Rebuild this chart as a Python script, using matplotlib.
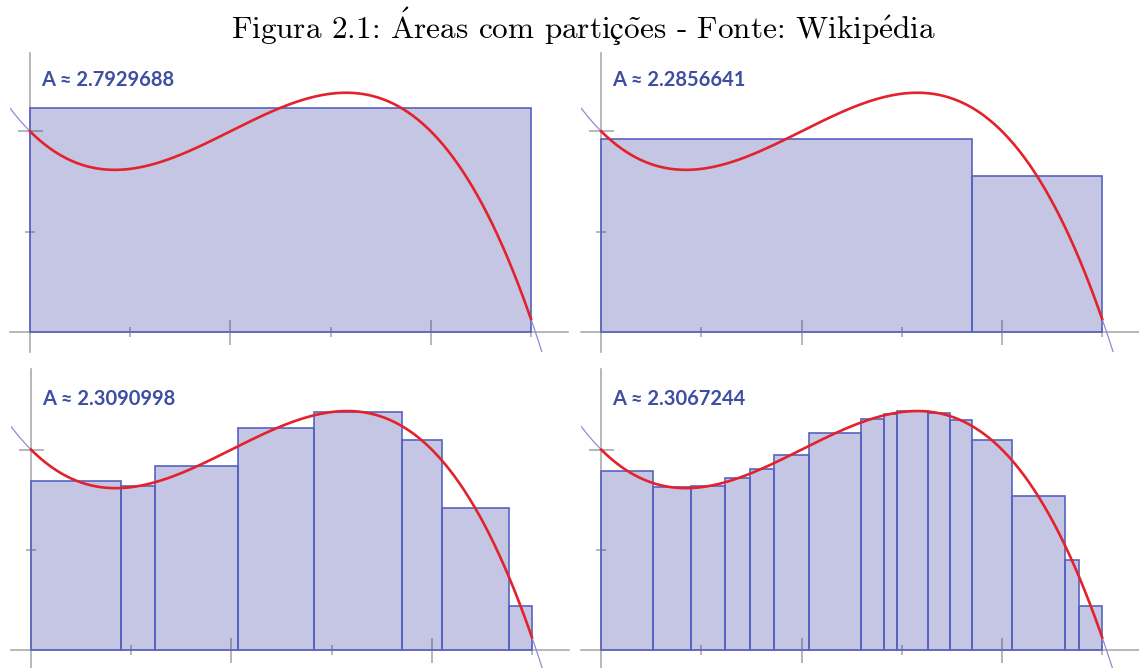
import numpy as np
import matplotlib.pyplot as plt
from matplotlib.ticker import FixedLocator

plt.rcParams["mathtext.fontset"] = "cm"

# f(x) = -0.5x^3 + 1.5x^2 - x + 1, integrada em [0, 2.5]
coef = [-0.5, 1.5, -1.0, 1.0]
a, b = 0.0, 2.5

# pontos das partições de cada painel (soma com ponto médio)
part_1 = [0, 2.5]
part_2 = [0, 1.85, 2.5]
part_3 = [0, 0.45, 0.62, 1.035, 1.41, 1.85, 2.05, 2.385, 2.5]
part_4 = [0, 0.257, 0.45, 0.62, 0.7425, 0.862, 1.035, 1.298, 1.41, 1.474,
          1.631, 1.74, 1.85, 2.05, 2.312, 2.385, 2.5]
particoes = [part_1, part_2, part_3, part_4]
areas = ["2.7929688", "2.2856641", "2.3090998", "2.3067244"]

f = np.poly1d(coef)

W, H = 1139, 668
s = 200.4  # pixels por unidade
origens = [(30, 331.7), (601.2, 331.7), (31, 650), (601.2, 650)]
ylims = [(-0.1, 1.392), (-0.1, 1.392), (-0.1, 1.40), (-0.1, 1.40)]
xlim = (-0.1, 2.685)

cinza = "#a3a3a3"
fig = plt.figure(figsize=(W / 100, H / 100), dpi=100)

for (ox, oy), yl, pts, area in zip(origens, ylims, particoes, areas):
    left = (ox + xlim[0] * s) / W
    width = (xlim[1] - xlim[0]) * s / W
    bottom = (H - (oy - yl[0] * s)) / H
    height = (yl[1] - yl[0]) * s / H
    ax = fig.add_axes([left, bottom, width, height])
    ax.set_xlim(*xlim)
    ax.set_ylim(*yl)
    ax.patch.set_alpha(0)

    for lado in ["top", "right"]:
        ax.spines[lado].set_visible(False)
    for lado in ["left", "bottom"]:
        ax.spines[lado].set_position(("data", 0))
        ax.spines[lado].set_color(cinza)
        ax.spines[lado].set_linewidth(1.1)

    ax.xaxis.set_major_locator(FixedLocator([1, 2]))
    ax.xaxis.set_minor_locator(FixedLocator([0.5, 1.5, 2.5]))
    ax.yaxis.set_major_locator(FixedLocator([1]))
    ax.yaxis.set_minor_locator(FixedLocator([0.5]))
    ax.tick_params(which="major", direction="inout", length=18, width=1.1,
                   color=cinza, labelbottom=False, labelleft=False)
    ax.tick_params(which="minor", direction="inout", length=7.5, width=1.1,
                   color=cinza)

    # retângulos com altura f(ponto médio)
    x = np.array(pts, dtype=float)
    larg = np.diff(x)
    meio = x[:-1] + larg / 2
    ax.bar(x[:-1], f(meio), width=larg, align="edge",
           facecolor=(0.25, 0.25, 0.66, 0.3), edgecolor="#5563bf",
           linewidth=1.2, zorder=3)

    xs = np.linspace(xlim[0], 2.6, 400)
    ax.plot(xs, f(xs), color="#8c8cd6", lw=0.9, zorder=4)
    xr = np.linspace(a, b, 400)
    ax.plot(xr, f(xr), color="#e3222b", lw=1.9, zorder=5)

    ax.text(0.053, 1.225, "A ≈ " + area, family="Lato", weight="bold",
            fontsize=14.5, color="#3d4ea3", va="baseline", ha="left")

titulo = (r"Figura 2.1: $\mathrm{\acute{A}}$reas com parti$\mathrm{ç\tilde{o}}$es"
          r" - Fonte: Wikip$\mathrm{\acute{e}}$dia")
fig.text(0.5123, (H - 39.3) / H, titulo, family="cmr10", fontsize=22.5,
         ha="center", va="baseline")

fig.savefig("out.png", dpi=100)
